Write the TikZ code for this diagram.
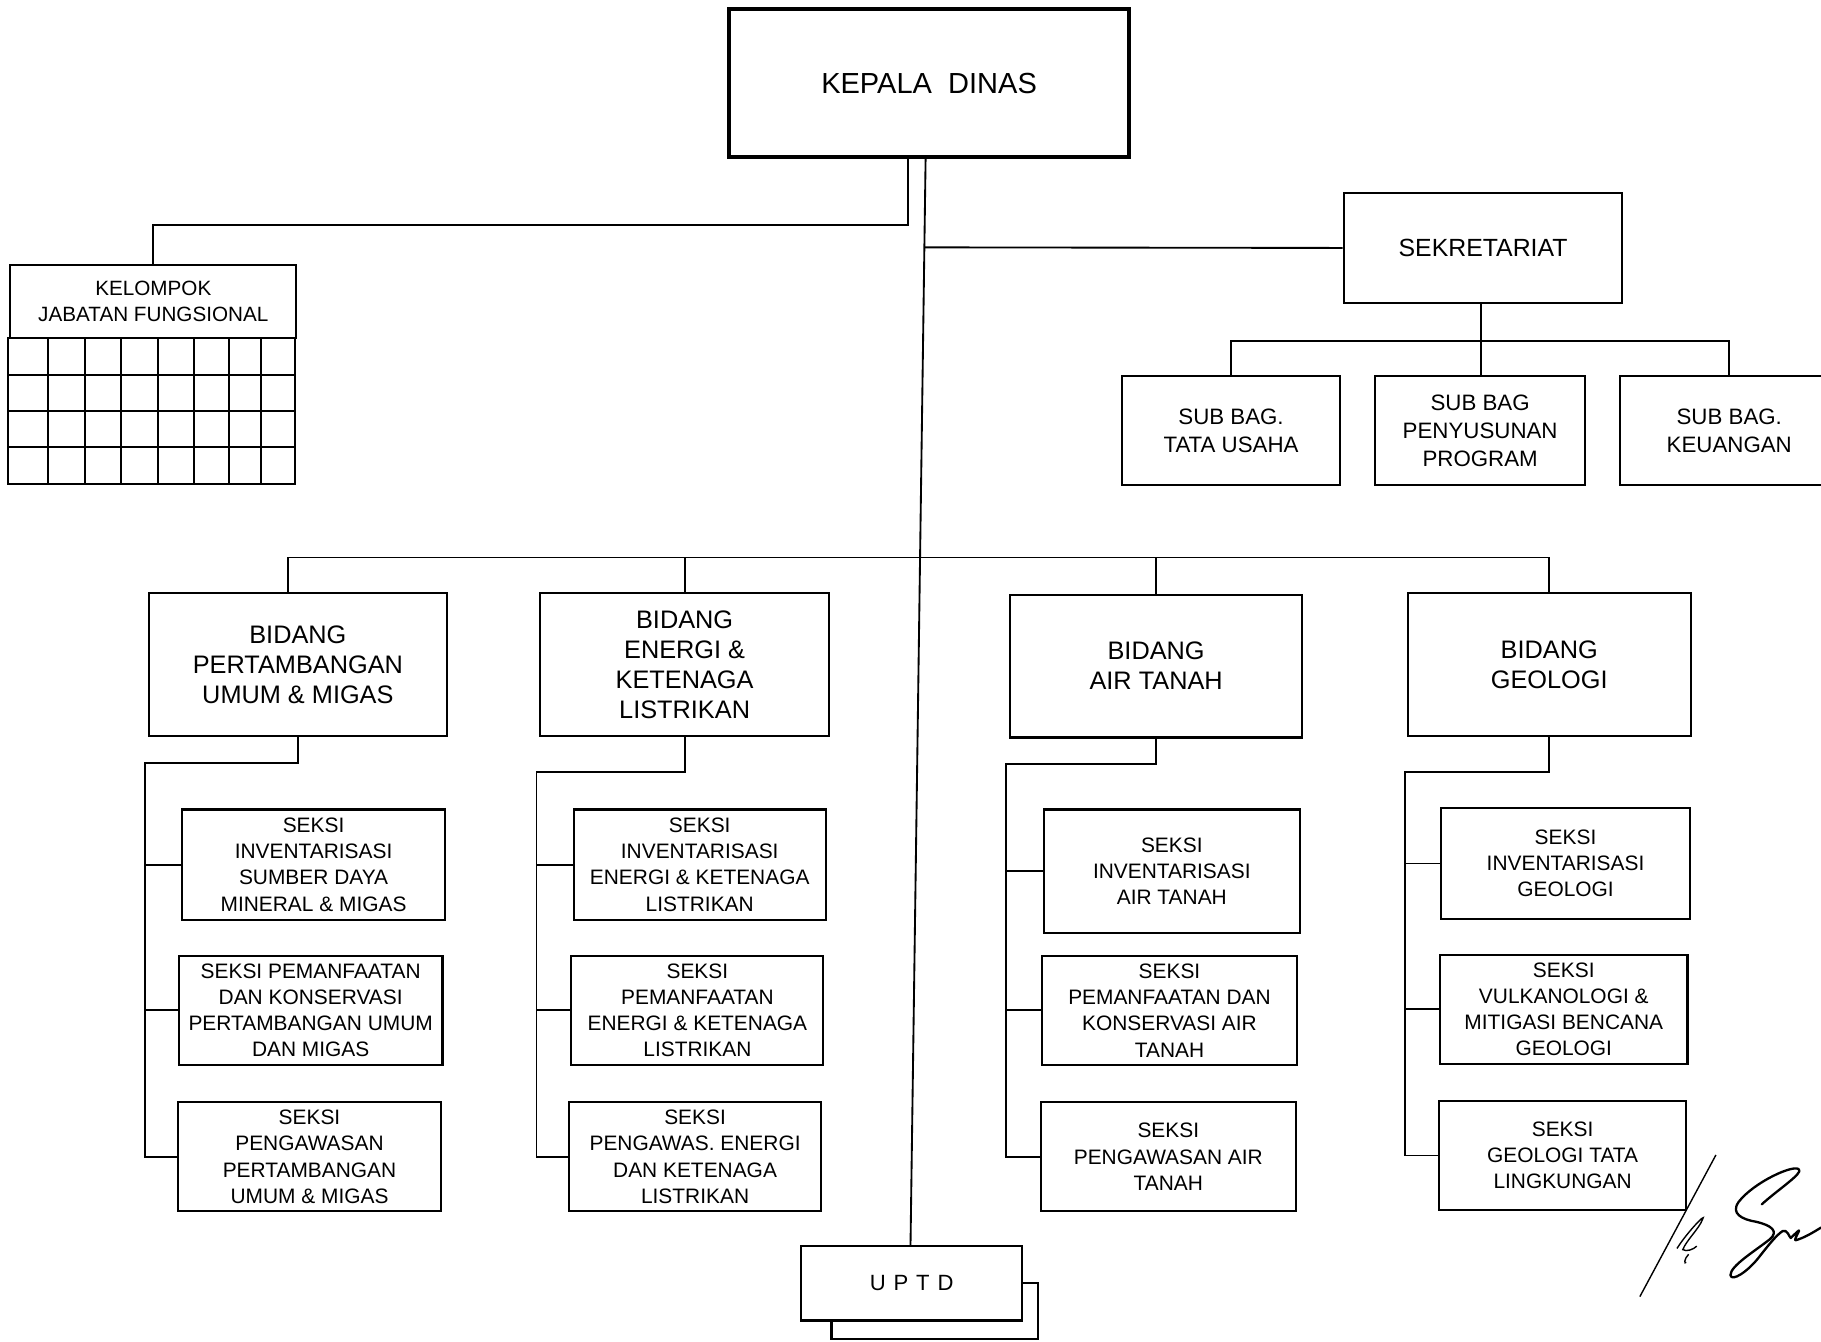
\documentclass[tikz,border=0pt]{standalone}
\usepackage{fontspec}
\setmainfont{Liberation Sans}
\begin{document}
\begin{tikzpicture}[x=0.5pt,y=-0.5pt,
  box/.style={draw, line width=0.9pt, fill=white, inner sep=0pt, align=center},
  conn/.style={line width=0.8pt},
  bid/.style={box, minimum height=61.5pt, font=\fontsize{10.9}{13}\selectfont},
  sek/.style={box, minimum height=47pt, font=\fontsize{9}{11.3}\selectfont},
  sub/.style={box, minimum height=47pt, font=\fontsize{9.6}{12}\selectfont},
  sig/.style={line width=0.6pt},
]
\useasboundingbox (0,0) rectangle (1568,1155);

% top
\node[box, line width=1.6pt, minimum width=172pt, minimum height=63.5pt, font=\fontsize{12.5}{15}\selectfont] (kepala) at (800,71.5) {KEPALA\ \ DINAS};
\node[box, minimum width=120pt, minimum height=47.5pt, font=\fontsize{10.7}{13}\selectfont] (sekr) at (1277,213.5) {SEKRETARIAT};
\node[sub, minimum width=94pt] (sb1) at (1060,371) {SUB BAG.\\TATA USAHA};
\node[sub, minimum width=90.5pt] (sb2) at (1274.5,371) {SUB BAG\\PENYUSUNAN\\PROGRAM};
\node[sub, minimum width=94pt] (sb3) at (1489,371) {SUB BAG.\\KEUANGAN};

% kelompok jabatan fungsional
\node[box, minimum width=123pt, minimum height=31.5pt, font=\fontsize{8.9}{11}\selectfont] (kjf) at (132,259.5) {KELOMPOK\\JABATAN FUNGSIONAL};
\draw[line width=0.9pt] (7,291) rectangle (254,417);
\foreach \x in {41,73,104,136,167,197,225} \draw[line width=0.9pt] (\x,291) -- (\x,417);
\foreach \y in {323,354,385} \draw[line width=0.9pt] (7,\y) -- (254,\y);

% bidang
\node[bid, minimum width=128.5pt] (b1) at (256.5,572.5) {BIDANG\\PERTAMBANGAN\\UMUM \& MIGAS};
\node[bid, minimum width=124.5pt] (b2) at (589.5,572.5) {BIDANG\\ENERGI \&\\KETENAGA\\LISTRIKAN};
\node[bid, minimum width=125.5pt] (b3) at (995.5,573.5) {BIDANG\\AIR TANAH};
\node[bid, minimum width=122pt] (b4) at (1334,572.5) {BIDANG\\GEOLOGI};

% seksi
\node[sek, minimum width=113pt, minimum height=47.5pt] (s11) at (270,744.5) {SEKSI\\INVENTARISASI\\SUMBER DAYA\\MINERAL \& MIGAS};
\node[sek, minimum width=113.5pt] (s12) at (267.5,870) {SEKSI PEMANFAATAN\\DAN KONSERVASI\\PERTAMBANGAN UMUM\\DAN MIGAS};
\node[sek, minimum width=113.5pt] (s13) at (266.5,996) {SEKSI\\PENGAWASAN\\PERTAMBANGAN\\UMUM \& MIGAS};

\node[sek, minimum width=108.5pt, minimum height=47.5pt] (s21) at (602.5,744.5) {SEKSI\\INVENTARISASI\\ENERGI \& KETENAGA\\LISTRIKAN};
\node[sek, minimum width=108.5pt] (s22) at (600.5,870) {SEKSI\\PEMANFAATAN\\ENERGI \& KETENAGA\\LISTRIKAN};
\node[sek, minimum width=108.5pt] (s23) at (598.5,996) {SEKSI\\PENGAWAS. ENERGI\\DAN KETENAGA\\LISTRIKAN};

\node[sek, minimum width=110pt, minimum height=53pt] (s31) at (1009,750) {SEKSI\\INVENTARISASI\\AIR TANAH};
\node[sek, minimum width=110pt] (s32) at (1007,870) {SEKSI\\PEMANFAATAN DAN\\KONSERVASI AIR\\TANAH};
\node[sek, minimum width=110pt] (s33) at (1006,996) {SEKSI\\PENGAWASAN AIR\\TANAH};

\node[sek, minimum width=107pt, minimum height=47.5pt] (s41) at (1348,743.5) {SEKSI\\INVENTARISASI\\GEOLOGI};
\node[sek, minimum width=106.5pt] (s42) at (1346.5,869) {SEKSI\\VULKANOLOGI \&\\MITIGASI BENCANA\\GEOLOGI};
\node[sek, minimum width=106.5pt] (s43) at (1345.5,995) {SEKSI\\GEOLOGI TATA\\LINGKUNGAN};

% UPTD with shadow box
\draw[line width=0.9pt] (716,1105) rectangle (894,1153);
\node[box, minimum width=95pt, minimum height=32pt, font=\fontsize{9.5}{11}\selectfont] (uptd) at (785,1105) {U\kern3.4pt P\kern3.4pt T\kern3.4pt D};

% connectors
\coordinate (jsek) at (796,213);
\coordinate (bus) at (792,480);
\draw[conn] ([xshift=-1.5pt]kepala.south) -- ([xshift=-0.5pt]uptd.north);
\draw[conn] ([xshift=-9pt]kepala.south) |- ([yshift=16.5pt]kjf.north) -- (kjf.north);
\draw[conn] (sekr.west) -- (jsek);
\draw[conn] ([xshift=-1pt]sekr.south) -- ([xshift=-1pt,yshift=-16pt]sekr.south) coordinate (sj);
\draw[conn] (sb1.north) |- (sj) -| (sb3.north);
\draw[conn] (sj) -- (sj |- sb2.north);

\draw[conn] ([xshift=-4.25pt]b1.north) |- (bus) -| (b4.north);
\draw[conn] (b2.north) -- (b2.north |- bus);
\draw[conn] (b3.north) -- (b3.north |- bus);

\coordinate (c1) at (125,657);
\coordinate (c2) at (462,665);
\coordinate (c3) at (866,658);
\coordinate (c4) at (1210,665);
\foreach \b/\c/\s/\t/\u in {b1/c1/s11/s12/s13, b2/c2/s21/s22/s23, b3/c3/s31/s32/s33, b4/c4/s41/s42/s43} {
  \draw[conn] (\b.south) |- (\c) -- (\c |- \u.west) -- (\u.west);
  \draw[conn] (\c |- \s.west) -- (\s.west);
  \draw[conn] (\c |- \t.west) -- (\t.west);
}

% signature
\draw[sig] (1412,1116.5) -- (1477.5,994.5);
\draw[sig] (1444,1075) .. controls (1452,1062) and (1470,1043) .. (1466,1050) .. controls (1463,1058) and (1452,1068) .. (1449,1076) .. controls (1452,1078) and (1458,1076) .. (1461,1073);
\draw[sig] (1454,1080) .. controls (1450,1084) and (1450,1089) .. (1452,1087);
\draw[line width=1pt, line cap=round, line join=round] (1517,1037) .. controls (1530,1025) and (1553,1010) .. (1549,1007) .. controls (1545,1002) and (1510,1018) .. (1497,1035) .. controls (1490,1045) and (1500,1050) .. (1512,1052) .. controls (1525,1055) and (1532,1060) .. (1524,1067) .. controls (1510,1078) and (1490,1090) .. (1490,1098) .. controls (1491,1104) and (1505,1095) .. (1515,1082) .. controls (1522,1073) and (1530,1063) .. (1535,1060) .. controls (1539,1058) and (1541,1066) .. (1542,1066) .. controls (1546,1062) and (1550,1058) .. (1549,1060) .. controls (1547,1064) and (1545,1068) .. (1546,1068) .. controls (1553,1066) and (1560,1062) .. (1568,1057);
\end{tikzpicture}
\end{document}
